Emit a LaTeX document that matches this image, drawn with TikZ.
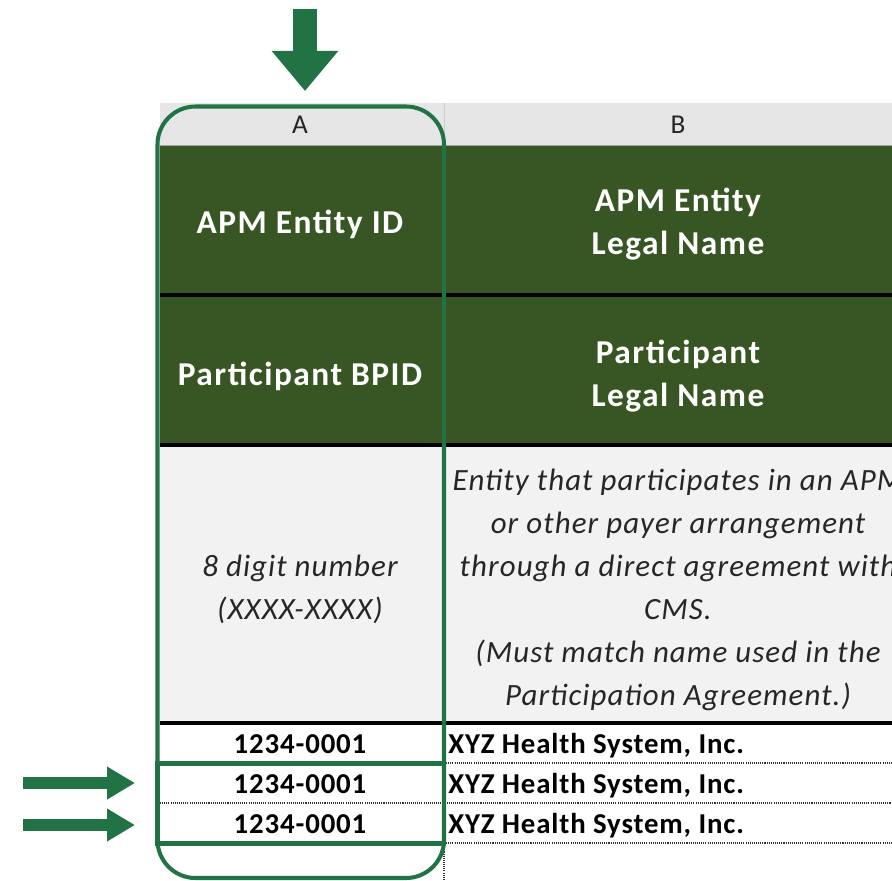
\documentclass[tikz,border=0pt]{standalone}
\usepackage{fontspec}
\setmainfont{Carlito}
\usetikzlibrary{arrows.meta}
\definecolor{hdrgreen}{HTML}{375623}
\definecolor{xlgreen}{HTML}{217346}
\definecolor{bandgray}{HTML}{E6E6E6}
\definecolor{rowgray}{HTML}{F2F2F2}
\definecolor{txtgray}{HTML}{262626}

\begin{document}
\begin{tikzpicture}[x=0.02cm, y=-0.02cm,
   hdrtext/.style={text=white, inner sep=0pt, align=center,
      font=\fontsize{19}{24.5}\selectfont\bfseries\addfontfeature{LetterSpace=4.5}},
   notetext/.style={text=txtgray, inner sep=0pt, align=center,
      font=\fontsize{17.6}{24.5}\selectfont\itshape\addfontfeature{LetterSpace=3.5}},
   celltext/.style={text=black, inner sep=0pt,
      font=\fontsize{16.4}{19}\selectfont\bfseries\addfontfeature{LetterSpace=3}},
   coltext/.style={text=txtgray, inner sep=0pt, font=\fontsize{15.5}{18}\selectfont},
   dotline/.style={line width=0.6pt, dash pattern=on 0.6pt off 0.6pt, black!80},
   thickrule/.style={line width=2pt, black},
   hilite/.style={xlgreen, line width=2.3pt},
   bigarrow/.style={xlgreen, line width=13.7pt, -{Triangle[length=22.8pt, width=36.4pt]}},
   sidearrow/.style={xlgreen, line width=6.8pt, -{Triangle[length=15.9pt, width=17.6pt]}}]

   % page
   \clip (0,0) rectangle (892,880);
   \fill [white] (0,0) rectangle (892,880);

   % column letters
   \fill [bandgray] (160,103) rectangle (892,146);
   \draw [black!35, line width=0.8pt] (160,146)--(892,146);
   \draw [black!20] (444,103)--(444,146);
   \node (colA) [coltext, anchor=base] at (300,133){A};
   \node (colB) [coltext, anchor=base] at (678,133){B};

   % header rows
   \fill [hdrgreen] (160,146) rectangle (892,445);
   \fill [rowgray] (160,445) rectangle (892,723);
   \draw [thickrule](160,295)--(892,295);
   \draw [thickrule](160,445)--(892,445);
   \draw [thickrule](160,723)--(892,723);
   \node (idA) [hdrtext, anchor=base] at (300,233){APM Entity ID};
   \node (idB) [hdrtext] at (678,224){APM Entity\\Legal Name};
   \node (bpidA) [hdrtext, anchor=base] at (300,385){Participant BPID};
   \node (bpidB) [hdrtext] at (678,376){Participant\\Legal Name};

   % description row
   \node (noteA) [notetext] at (300,589){8 digit number\\(XXXX-XXXX)};
   \node (noteB) [notetext] at (678,590){Entity that participates in an APM\\or other payer arrangement\\through a direct agreement with\\CMS.\\(Must match name used in the\\Participation Agreement.)};

   % data rows
   \draw [dotline](444,763)--(892,763);
   \draw [dotline](160,803)--(892,803);
   \draw [dotline](444,843)--(892,843);
   \draw [dotline](444,843)--(444,880);
   \foreach \y [count=\i] in {753,793,833}{
      \node (id\i) [celltext, anchor=base] at (300,\y){1234-0001};
      \node (name\i) [celltext, anchor=base west] at (448,\y){XYZ Health System, Inc.};
   }

   % column A highlight
   \draw [hilite, rounded corners=0.76cm](157.5,106.5) rectangle (444,878);
   \draw [hilite](157.5,763.5) rectangle (444,843.5);

   % arrows
   \coordinate (downtail) at (305,9);
   \coordinate (downtip) at (305,91);
   \draw [bigarrow](downtail)--(downtip);
   \coordinate (tail1) at (23,783);
   \coordinate (tip1) at (135,783);
   \draw [sidearrow](tail1)--(tip1);
   \coordinate (tail2) at (23,825);
   \coordinate (tip2) at (135,825);
   \draw [sidearrow](tail2)--(tip2);

\end{tikzpicture}
\end{document}
